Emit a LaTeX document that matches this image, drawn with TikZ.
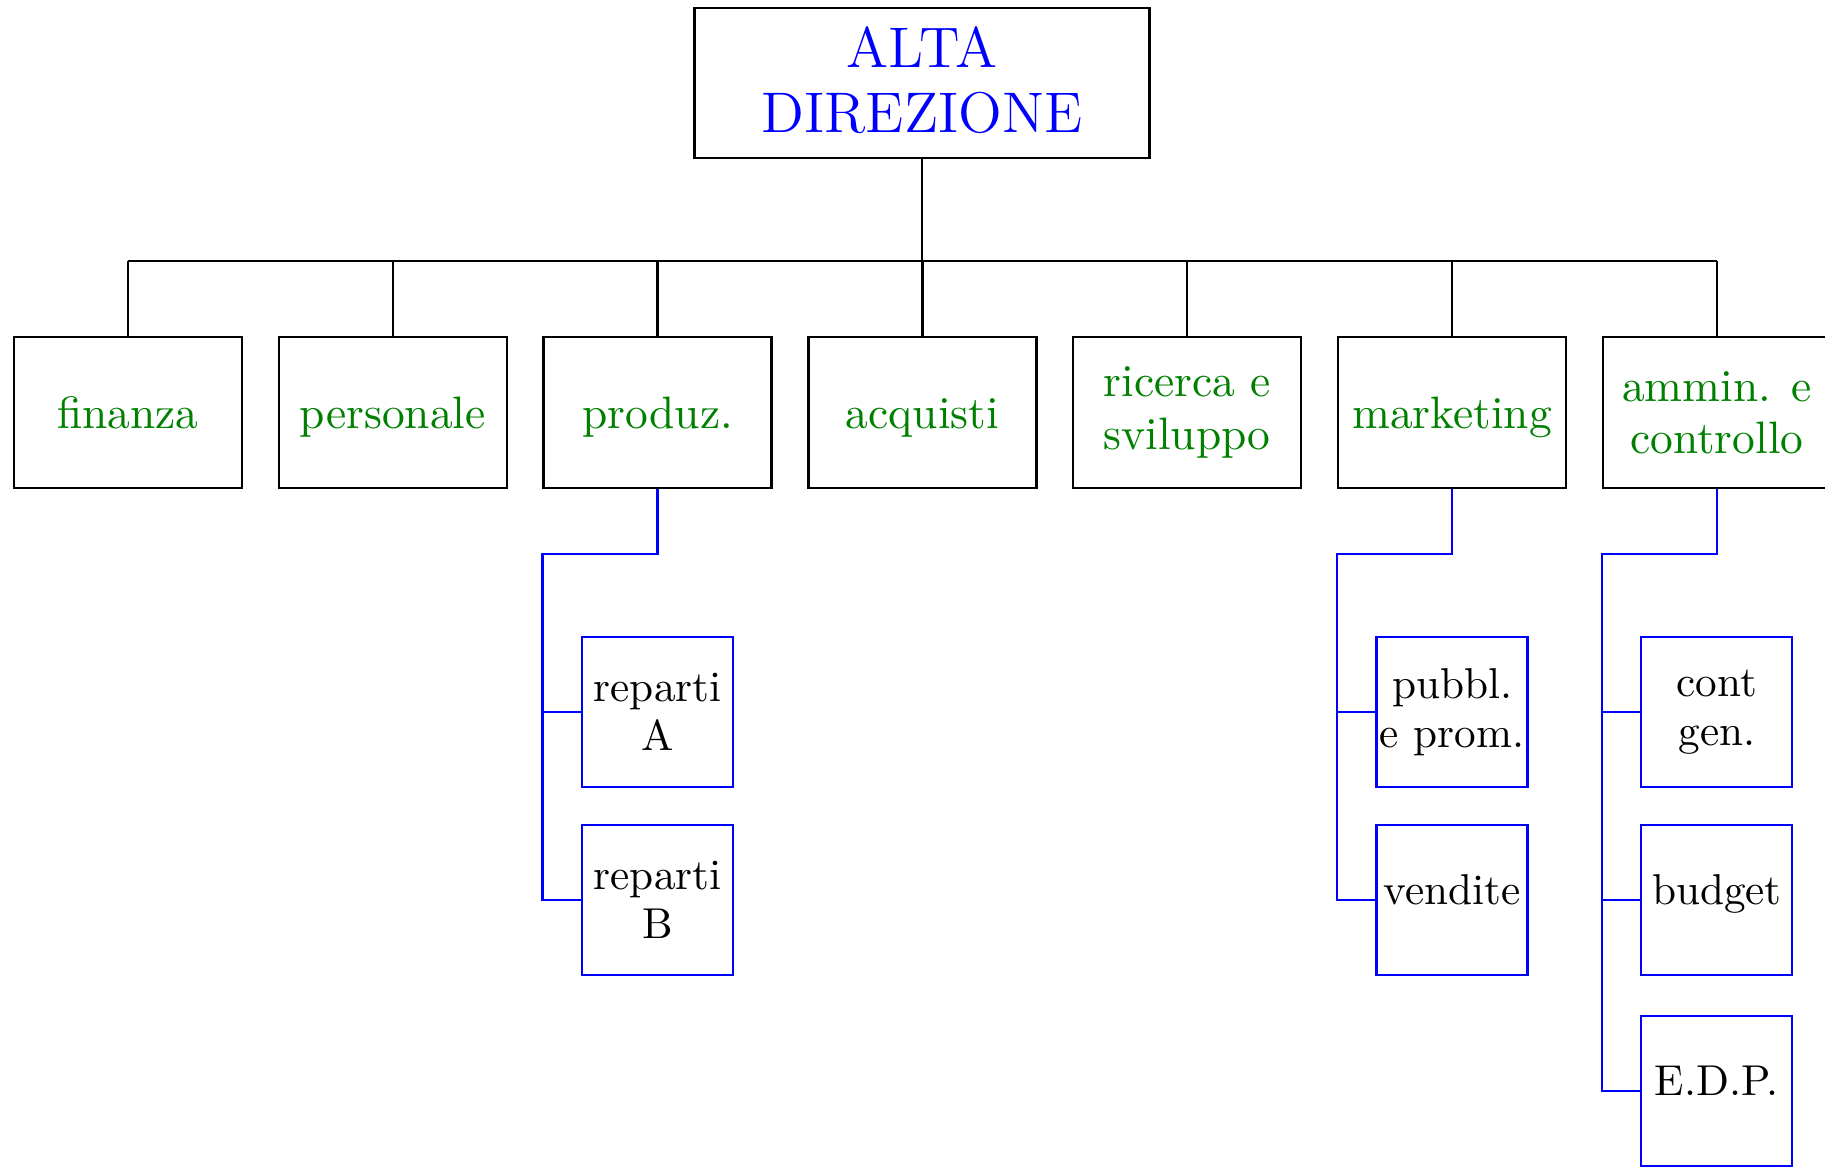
\documentclass[tikz,border=0pt]{standalone}
\definecolor{dgreen}{RGB}{0,128,0}
\tikzset{
  x=0.22pt, y=-0.22pt,
  topbox/.style={draw=black, line width=0.5pt, minimum width=455*0.22pt, minimum height=150*0.22pt,
    inner sep=0pt, align=center, text=blue, text depth=1.5pt, font=\fontsize{12.6}{14.1}\selectfont},
  dept/.style={draw=black, line width=0.5pt, minimum width=228*0.22pt, minimum height=151*0.22pt,
    inner sep=0pt, align=center, text=dgreen, font=\fontsize{10}{11.5}\selectfont},
  deptone/.style={dept, text height=7pt, text depth=0pt},
  sub/.style={draw=blue, line width=0.5pt, minimum width=151*0.22pt, minimum height=150*0.22pt,
    inner sep=0pt, align=center, text=black, font=\fontsize{9.5}{10.7}\selectfont},
  subone/.style={sub, text height=6pt, text depth=4.2pt},
  bus/.style={draw=black, line width=0.5pt},
  link/.style={draw=blue, line width=0.5pt},
}
\begin{document}
\begin{tikzpicture}
\useasboundingbox (0,0) rectangle (1825,1167);
% top
\node[topbox] (alta) at (922,83) {ALTA\\DIREZIONE};
% departments
\node[deptone] (fin) at (128,412.5) {finanza};
\node[deptone] (pers) at (392.8,412.5) {personale};
\node[deptone] (prod) at (657.6,412.5) {produz.};
\node[deptone] (acq) at (922.4,412.5) {acquisti};
\node[dept] (ric) at (1187.2,412.5) {ricerca e\\sviluppo};
\node[deptone] (mkt) at (1452,412.5) {marketing};
\node[dept] (amm) at (1716.8,412.5) {ammin. e\\controllo};
% bus
\coordinate (busy) at (0,261);
\draw[bus] (alta.south) -- (alta.south |- busy);
\draw[bus] (fin.north |- busy) -- (amm.north |- busy);
\foreach \n in {fin,pers,prod,acq,ric,mkt,amm}
  \draw[bus] (\n.north) -- (\n.north |- busy);
% sub units
\coordinate (suby) at (0,554);
\node[sub] (repA) at (657.6,712) {reparti\\A};
\node[sub] (repB) at (657.6,900) {reparti\\B};
\node[sub] (pub) at (1452,712) {pubbl.\\e prom.};
\node[subone] (ven) at (1452,900) {vendite};
\node[sub] (cont) at (1716.8,712) {cont\\gen.};
\node[subone] (bud) at (1716.8,900) {budget};
\node[subone] (edp) at (1716.8,1091) {E.D.P.};
% produzione links
\draw[link] (prod.south) -- (prod.south |- suby) -- (prod.west |- suby) -- (prod.west |- repB.west) -- (repB.west);
\draw[link] (prod.west |- repA.west) -- (repA.west);
% marketing links
\draw[link] (mkt.south) -- (mkt.south |- suby) -- (mkt.west |- suby) -- (mkt.west |- ven.west) -- (ven.west);
\draw[link] (mkt.west |- pub.west) -- (pub.west);
% amministrazione links
\draw[link] (amm.south) -- (amm.south |- suby) -- (amm.west |- suby) -- (amm.west |- edp.west) -- (edp.west);
\draw[link] (amm.west |- cont.west) -- (cont.west);
\draw[link] (amm.west |- bud.west) -- (bud.west);
\end{tikzpicture}
\end{document}
